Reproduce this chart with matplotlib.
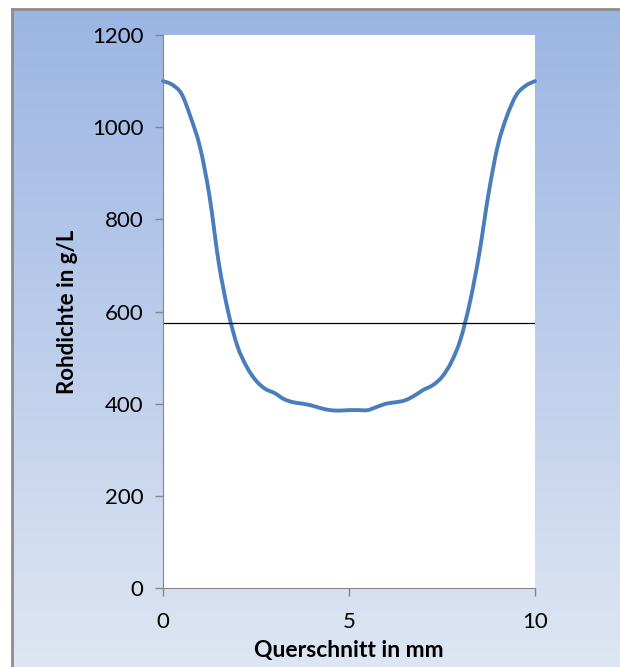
import numpy as np
import matplotlib.pyplot as plt
from matplotlib.path import Path
from matplotlib.patches import PathPatch

plt.rcParams['font.family'] = ['Lato', 'DejaVu Sans']

# cross-section position (mm) and density (g/L)
querschnitt = [0, 0.25, 0.5, 0.75, 1.0, 1.25, 1.5, 1.75, 2.0, 2.25, 2.5, 2.75,
               3.0, 3.25, 3.5, 3.75, 4.0, 4.25, 4.5, 4.75, 5.0, 5.25, 5.5, 5.75,
               6.0, 6.25, 6.5, 6.75, 7.0, 7.25, 7.5, 7.75, 8.0, 8.25, 8.5, 8.75,
               9.0, 9.25, 9.5, 9.75, 10.0]
rohdichte = [1100, 1092, 1072, 1020, 955, 850, 705, 600, 525, 480, 450, 432,
             423, 410, 403, 400, 396, 390, 386, 385, 386, 386, 386, 393,
             400, 403, 407, 417, 430, 440, 458, 490, 540, 620, 725, 855,
             960, 1025, 1070, 1090, 1100]
schwelle = 575


def smooth_path(xs, ys):
    # Excel-style smoothed line: cubic bezier segments through every point
    pts = np.column_stack([xs, ys]).astype(float)
    verts = [pts[0]]
    codes = [Path.MOVETO]
    n = len(pts)
    for i in range(n - 1):
        p0 = pts[max(i - 1, 0)]
        p1 = pts[i]
        p2 = pts[i + 1]
        p3 = pts[min(i + 2, n - 1)]
        c1 = p1 + (p2 - p0) / 6
        c2 = p2 - (p3 - p1) / 6
        verts += [c1, c2, p2]
        codes += [Path.CURVE4] * 3
    return Path(verts, codes)


fig = plt.figure(figsize=(6.2, 6.67), dpi=100)

# gradient background frame
bg = fig.add_axes([12 / 620, 0, 1 - 12 / 620, 1 - 9 / 667])
grad = np.linspace(0, 1, 256).reshape(-1, 1)
top = np.array([0x9B, 0xB5, 0xE3]) / 255
bot = np.array([0xDE, 0xE6, 0xF3]) / 255
img = top + (bot - top) * grad[:, :, None]
bg.imshow(img, aspect='auto', extent=[0, 1, 0, 1], origin='upper')
bg.set_xlim(0, 1)
bg.set_ylim(0, 1)
bg.set_xticks([])
bg.set_yticks([])
for s in ['right', 'bottom']:
    bg.spines[s].set_visible(False)
for s in ['left', 'top']:
    bg.spines[s].set_color('#8c8c8c')
    bg.spines[s].set_linewidth(2)

ax = fig.add_axes([163 / 620, 1 - 588 / 667, (535 - 163) / 620, (588 - 35) / 667])
ax.set_facecolor('white')
ax.add_patch(PathPatch(smooth_path(querschnitt, rohdichte), facecolor='none',
                       edgecolor='#4A7EBB', lw=2.8, capstyle='round',
                       joinstyle='round', clip_on=False))
ax.axhline(schwelle, color='black', lw=0.9)

ax.set_xlim(0, 10)
ax.set_ylim(0, 1200)
ax.set_xticks([0, 5, 10])
ax.set_yticks(range(0, 1201, 200))
ax.spines['top'].set_visible(False)
ax.spines['right'].set_visible(False)
for s in ['left', 'bottom']:
    ax.spines[s].set_color('#868686')
ax.tick_params(colors='#868686', labelcolor='black', labelsize=16, length=6, width=1)
ax.tick_params(axis='x', pad=11)
ax.tick_params(axis='y', pad=8)

ax.set_ylabel('Rohdichte in g/L', fontsize=16, fontweight='bold', labelpad=10)
ax.set_xlabel('Querschnitt in mm', fontsize=16.5, fontweight='bold', labelpad=6)

fig.savefig('out.png', dpi=100)
